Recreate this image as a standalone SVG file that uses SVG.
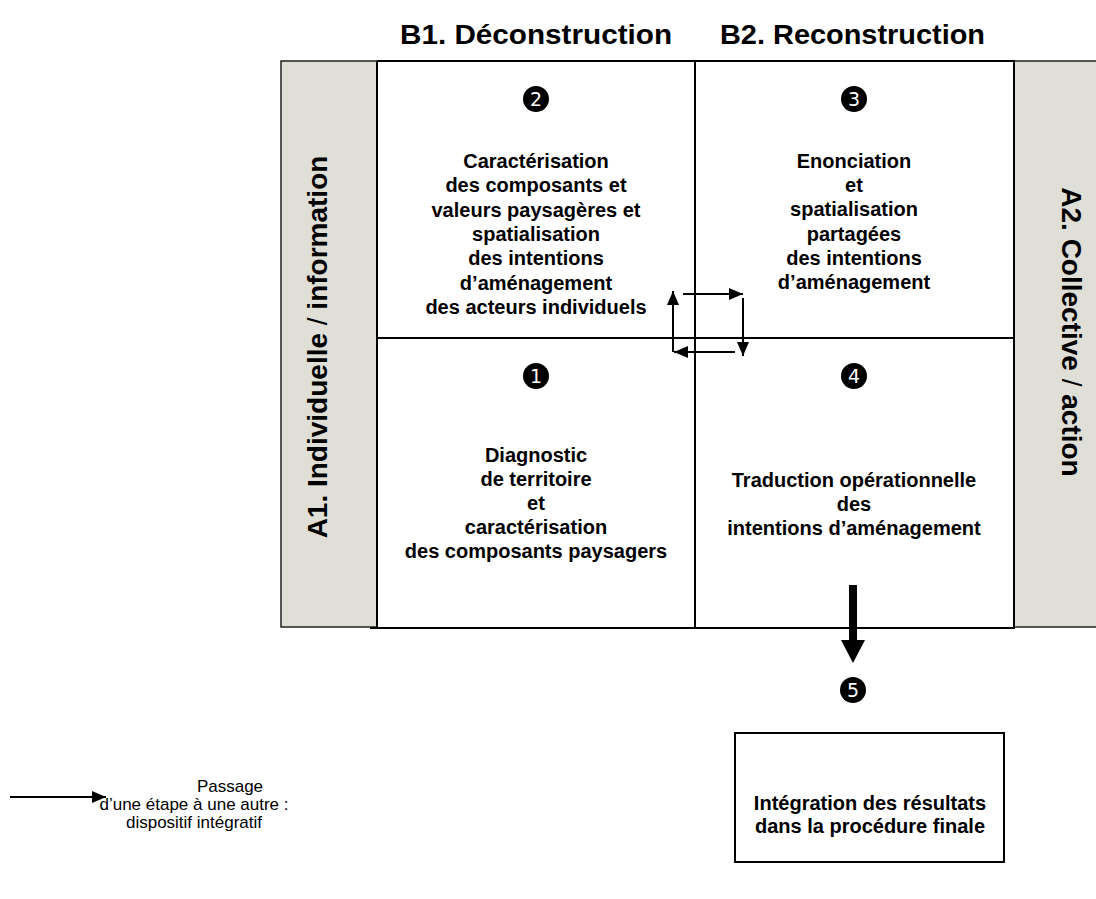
<svg xmlns="http://www.w3.org/2000/svg" width="1096" height="899" viewBox="0 0 1096 899">
<style>
.bar{fill:#DFDFD8;stroke:#222;stroke-width:1.5}
.grid{stroke:#000;stroke-width:2;fill:none}
.cell{font-family:"Liberation Sans",Arial,sans-serif;font-weight:bold;font-size:20px;fill:#000;text-anchor:middle}
.head{font-family:"Liberation Sans",Arial,sans-serif;font-weight:bold;font-size:28px;fill:#000}
.axis{font-family:"Liberation Sans",Arial,sans-serif;font-weight:bold;font-size:28px;fill:#000;text-anchor:middle}
.num{font-family:"DejaVu Sans",sans-serif;font-size:19px;fill:#fff;text-anchor:middle}
.leg{font-family:"Liberation Sans",Arial,sans-serif;font-size:17px;fill:#000;text-anchor:middle}
.conn{stroke:#000;stroke-width:2;fill:none}
</style>
<defs>
<marker id="ah" viewBox="0 0 14 12" refX="14" refY="6" markerWidth="14" markerHeight="12" markerUnits="userSpaceOnUse" orient="auto">
<path d="M0,0 L14,6 L0,12 Z" fill="#000"/>
</marker>
</defs>
<rect width="1096" height="899" fill="#fff"/>

<g id="headers">
<text class="head" x="400" y="44" textLength="272" lengthAdjust="spacingAndGlyphs">B1. Déconstruction</text>
<text class="head" x="720" y="44" textLength="265" lengthAdjust="spacingAndGlyphs">B2. Reconstruction</text>
</g>

<g id="axis-a1">
<rect class="bar" x="281" y="61" width="96" height="566"/>
<text class="axis" transform="translate(327,347) rotate(-90)">A1. Individuelle <tspan font-weight="normal">/</tspan> information</text>
</g>
<g id="axis-a2">
<rect class="bar" x="1014" y="61" width="90" height="566"/>
<text class="axis" transform="translate(1062,332) rotate(90)" font-size="27">A2. Collective <tspan font-weight="normal">/</tspan> action</text>
</g>

<g id="grid">
<path class="grid" d="M377,61 H1015 M370,628 H1015 M377,61 V628 M695,61 V628 M1014,61 V628 M377,338 H1014"/>
</g>

<g id="cell2">
<circle cx="536" cy="99" r="13"/>
<text class="num" x="536" y="106">2</text>
<text class="cell" x="536" y="168">Caractérisation</text>
<text class="cell" x="536" y="192">des composants et</text>
<text class="cell" x="536" y="217">valeurs paysagères et</text>
<text class="cell" x="536" y="241">spatialisation</text>
<text class="cell" x="536" y="265">des intentions</text>
<text class="cell" x="536" y="290">d’aménagement</text>
<text class="cell" x="536" y="314">des acteurs individuels</text>
</g>

<g id="cell3">
<circle cx="854" cy="99" r="13"/>
<text class="num" x="854" y="106">3</text>
<text class="cell" x="854" y="168">Enonciation</text>
<text class="cell" x="854" y="192">et</text>
<text class="cell" x="854" y="216">spatialisation</text>
<text class="cell" x="854" y="241">partagées</text>
<text class="cell" x="854" y="265">des intentions</text>
<text class="cell" x="854" y="289">d’aménagement</text>
</g>

<g id="cell1">
<circle cx="536" cy="376" r="13"/>
<text class="num" x="536" y="383">1</text>
<text class="cell" x="536" y="462">Diagnostic</text>
<text class="cell" x="536" y="486">de territoire</text>
<text class="cell" x="536" y="510">et</text>
<text class="cell" x="536" y="534">caractérisation</text>
<text class="cell" x="536" y="558">des composants paysagers</text>
</g>

<g id="cell4">
<circle cx="854" cy="376" r="13"/>
<text class="num" x="854" y="383">4</text>
<text class="cell" x="854" y="487">Traduction opérationnelle</text>
<text class="cell" x="854" y="511">des</text>
<text class="cell" x="854" y="535">intentions d’aménagement</text>
</g>

<g id="step5">
<circle cx="853" cy="690" r="13"/>
<text class="num" x="853" y="697">5</text>
</g>

<g id="final">
<rect x="735" y="733" width="269" height="129" fill="#fff" stroke="#000" stroke-width="2"/>
<text class="cell" x="870" y="810" font-size="19">Intégration des résultats</text>
<text class="cell" x="870" y="833" font-size="19">dans la procédure finale</text>
</g>

<g id="connectors">
<line class="conn" x1="673" y1="352" x2="673" y2="291" marker-end="url(#ah)"/>
<line class="conn" x1="683" y1="294" x2="743" y2="294" marker-end="url(#ah)"/>
<line class="conn" x1="743" y1="298" x2="743" y2="356" marker-end="url(#ah)"/>
<line class="conn" x1="735" y1="352" x2="674" y2="352" marker-end="url(#ah)"/>
<path d="M849,585 H857 V640 H865 L853,663 L841,640 H849 Z" fill="#000"/>
<line class="conn" x1="10" y1="797" x2="106" y2="797" marker-end="url(#ah)"/>
</g>

<g id="legend">
<text class="leg" x="230" y="792">Passage</text>
<text class="leg" x="194" y="810">d’une étape à une autre :</text>
<text class="leg" x="194" y="828">dispositif intégratif</text>
</g>
</svg>
